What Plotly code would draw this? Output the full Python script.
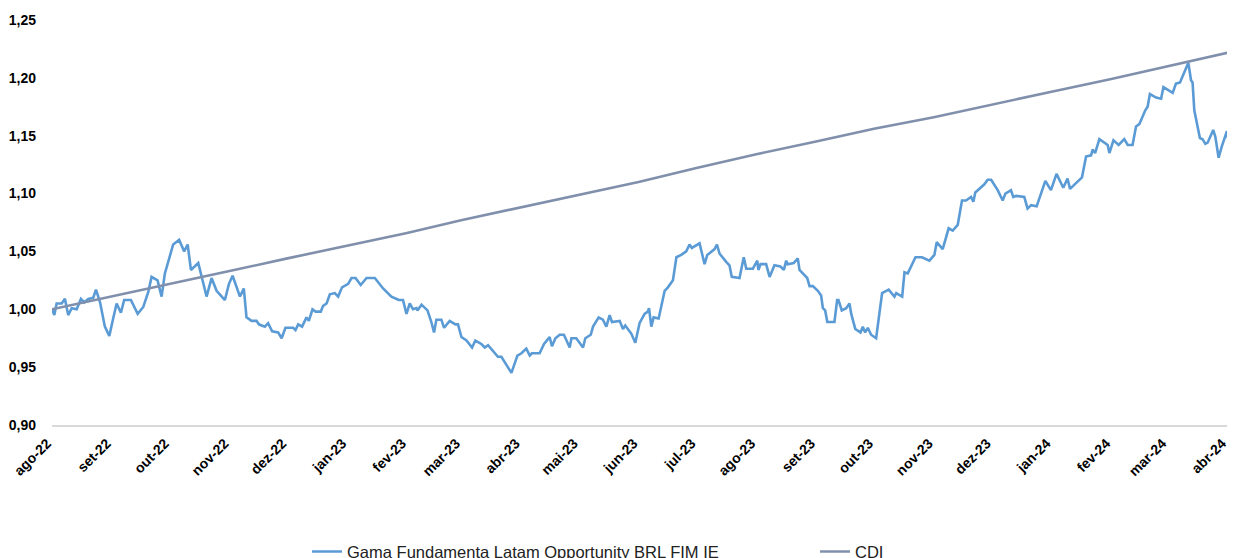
import pandas as pd
import plotly.graph_objects as go

START = pd.Timestamp("2022-08-01")

# Fund: days since 2022-08-01 and index value
fund_days = [0, 1.2, 2.4, 5.0, 6.7, 8.4, 10.2, 12.8, 15.0, 16.7, 18.8, 21.4, 22.8, 24.9, 27.4, 29.7, 31.7, 33.5, 35.7, 37.4,
             40.9, 44.4, 47.3, 49.9, 51.6, 54.7, 56.8, 58.5, 62.8, 65.9, 68.5, 70.3, 72.0, 75.8, 80.1, 82.7, 85.3, 89.6, 91.7, 93.6,
             97.4, 99.4, 100.8, 103.4, 106.0, 107.2, 110.3, 112.0, 114.1, 117.2, 119.0, 121.0, 125.0, 126.2, 127.6, 129.6, 131.9, 133.1, 135.0, 136.6,
             139.3, 140.5, 142.3, 144.0, 146.6, 148.3, 150.3, 153.5, 155.2, 157.3, 160.0, 161.7, 163.0, 167.3, 169.0, 171.6, 175.9, 179.7, 181.9, 183.7,
             185.4, 187.1, 188.9, 189.4, 191.5, 194.6, 196.6, 198.0, 199.2, 201.8, 203.2, 206.1, 209.1, 210.4, 212.2, 214.8, 217.7, 219.4, 222.5, 224.3,
             226.0, 229.4, 231.1, 232.9, 235.5, 238.1, 241.2, 243.3, 245.8, 247.6, 248.7, 252.7, 255.0, 257.9, 259.1, 260.9, 263.1, 265.3, 268.3, 269.2,
             271.7, 275.2, 276.4, 279.2, 280.4, 283.3, 285.5, 287.3, 289.0, 290.2, 294.2, 295.9, 297.1, 300.2, 302.3, 304.5, 307.1, 308.8, 309.4, 310.6,
             311.8, 314.4, 317.5, 319.2, 321.8, 323.6, 326.1, 328.7, 330.4, 331.6, 335.6, 338.2, 339.6, 342.5, 343.4, 344.6, 346.0, 349.4, 351.1, 352.3,
             356.3, 358.5, 359.8, 363.2, 365.5, 366.1, 367.2, 370.1, 371.9, 374.4, 377.5, 379.3, 380.5, 381.3, 384.4, 386.5, 387.4, 389.1, 391.4, 392.6,
             394.3, 396.9, 398.6, 399.5, 400.7, 401.8, 405.5, 406.9, 407.6, 409.3, 411.6, 413.3, 414.2, 416.3, 419.0, 420.2, 421.4, 422.8, 424.5, 427.1,
             430.2, 433.6, 434.9, 436.6, 437.5, 440.6, 441.8, 443.5, 447.5, 450.9, 454.7, 457.3, 458.5, 461.6, 464.7, 466.8, 469.4, 471.6, 473.7, 476.3,
             477.5, 478.5, 483.2, 484.9, 486.7, 490.1, 492.7, 494.1, 497.0, 498.2, 499.6, 503.9, 505.6, 507.4, 510.3, 512.6, 514.8, 517.7, 520.6, 524.1,
             526.3, 527.6, 533.8, 535.9, 538.5, 539.3, 540.6, 542.8, 547.1, 548.0, 550.1, 552.8, 555.7, 557.5, 560.0, 561.8, 563.5, 566.6, 567.8, 569.0,
             572.2, 574.8, 576.0, 580.8, 582.5, 584.6, 588.9, 590.3, 591.1, 592.0, 594.9, 596.3, 597.7, 598.9, 601.8, 602.9, 604.6, 606.3, 608.9, 610.0]
fund_values = [1.000, 0.995, 1.005, 1.005, 1.009, 0.995, 1.001, 1.000, 1.009, 1.006, 1.009, 1.010, 1.017, 1.006, 0.985, 0.977, 0.992, 1.005, 0.997, 1.008,
               1.008, 0.996, 1.002, 1.015, 1.028, 1.025, 1.011, 1.031, 1.056, 1.060, 1.050, 1.056, 1.034, 1.040, 1.011, 1.027, 1.016, 1.008, 1.022, 1.029,
               1.011, 1.018, 0.993, 0.990, 0.990, 0.987, 0.985, 0.988, 0.981, 0.980, 0.975, 0.984, 0.984, 0.982, 0.987, 0.985, 0.993, 0.990, 1.000, 0.998,
               0.998, 1.003, 1.005, 1.013, 1.014, 1.011, 1.019, 1.022, 1.027, 1.027, 1.021, 1.024, 1.027, 1.027, 1.023, 1.018, 1.011, 1.008, 1.008, 0.996,
               1.005, 1.000, 1.001, 0.999, 1.004, 0.999, 0.989, 0.980, 0.991, 0.991, 0.984, 0.990, 0.987, 0.987, 0.976, 0.973, 0.967, 0.973, 0.970, 0.967,
               0.969, 0.962, 0.959, 0.959, 0.952, 0.945, 0.960, 0.962, 0.966, 0.960, 0.962, 0.962, 0.970, 0.976, 0.968, 0.975, 0.978, 0.978, 0.967, 0.975,
               0.975, 0.967, 0.975, 0.978, 0.985, 0.993, 0.991, 0.985, 0.995, 0.989, 0.990, 0.983, 0.986, 0.979, 0.971, 0.988, 0.996, 0.998, 1.001, 0.985,
               0.993, 0.992, 1.016, 1.019, 1.025, 1.045, 1.047, 1.050, 1.056, 1.053, 1.057, 1.039, 1.047, 1.051, 1.052, 1.056, 1.048, 1.041, 1.038, 1.028,
               1.027, 1.045, 1.035, 1.035, 1.042, 1.034, 1.039, 1.039, 1.028, 1.038, 1.037, 1.034, 1.042, 1.039, 1.040, 1.044, 1.034, 1.031, 1.027, 1.020,
               1.020, 1.016, 1.012, 1.001, 0.999, 0.989, 0.989, 1.008, 1.008, 0.999, 1.001, 1.005, 0.996, 0.983, 0.980, 0.985, 0.980, 0.984, 0.978, 0.975,
               1.014, 1.017, 1.014, 1.011, 1.014, 1.011, 1.032, 1.031, 1.045, 1.045, 1.042, 1.047, 1.058, 1.052, 1.070, 1.068, 1.073, 1.094, 1.094, 1.097,
               1.093, 1.101, 1.108, 1.112, 1.112, 1.103, 1.094, 1.100, 1.103, 1.097, 1.098, 1.097, 1.087, 1.090, 1.089, 1.101, 1.111, 1.103, 1.117, 1.105,
               1.113, 1.104, 1.114, 1.132, 1.133, 1.138, 1.135, 1.147, 1.142, 1.135, 1.146, 1.142, 1.147, 1.142, 1.142, 1.158, 1.160, 1.172, 1.175, 1.186,
               1.183, 1.182, 1.192, 1.187, 1.195, 1.196, 1.213, 1.198, 1.196, 1.172, 1.148, 1.147, 1.143, 1.144, 1.155, 1.149, 1.131, 1.141, 1.154, 1.142]

# CDI: monthly readings
cdi_dates = ["2022-08-01", "2022-09-01", "2022-10-01", "2022-11-01", "2022-12-01", "2023-01-01", "2023-02-01",
             "2023-03-01", "2023-04-01", "2023-05-01", "2023-06-01", "2023-07-01", "2023-08-01", "2023-09-01",
             "2023-10-01", "2023-11-01", "2023-12-01", "2024-01-01", "2024-02-01", "2024-03-01", "2024-04-02"]
cdi_values = [1.000, 1.011, 1.022, 1.033, 1.044, 1.055, 1.066, 1.077, 1.088, 1.099, 1.110, 1.122, 1.134, 1.145,
              1.156, 1.166, 1.177, 1.188, 1.199, 1.210, 1.222]

tick_dates = ["2022-08-01", "2022-09-01", "2022-10-01", "2022-11-01", "2022-12-01", "2023-01-01", "2023-02-01",
              "2023-03-01", "2023-04-01", "2023-05-01", "2023-06-01", "2023-07-01", "2023-08-01", "2023-09-01",
              "2023-10-01", "2023-11-01", "2023-12-01", "2024-01-01", "2024-02-01", "2024-03-01", "2024-04-01"]
tick_labels = ["ago-22", "set-22", "out-22", "nov-22", "dez-22", "jan-23", "fev-23", "mar-23", "abr-23", "mai-23",
               "jun-23", "jul-23", "ago-23", "set-23", "out-23", "nov-23", "dez-23", "jan-24", "fev-24", "mar-24", "abr-24"]

fund_x = [START + pd.Timedelta(days=d) for d in fund_days]

fig = go.Figure()
fig.add_trace(go.Scatter(x=fund_x, y=fund_values, mode="lines",
                         name="Gama Fundamenta Latam Opportunity BRL FIM IE",
                         line=dict(color="#5B9BD5", width=2.6)))
fig.add_trace(go.Scatter(x=pd.to_datetime(cdi_dates), y=cdi_values, mode="lines", name="CDI",
                         line=dict(color="#8090AC", width=2.6)))

# The page body adds an 8px offset, so the figure is 8px smaller and margins compensate.
fig.update_layout(
    width=1227, height=550,
    margin=dict(l=44, r=5, t=12, b=133, autoexpand=False),
    paper_bgcolor="white", plot_bgcolor="white",
    separators=",.",
    font=dict(family="Liberation Sans", color="black"),
    showlegend=True,
    legend=dict(orientation="h", x=0.2165, xanchor="left", y=-0.313, yanchor="middle",
                font=dict(size=16.5, family="Liberation Sans", color="#222"),
                entrywidth=463, entrywidthmode="pixels", itemwidth=30,
                bgcolor="rgba(0,0,0,0)"),
)
fig.update_xaxes(
    type="date",
    range=["2022-08-01", "2024-04-02 12:00"],
    tickmode="array", tickvals=tick_dates, ticktext=tick_labels,
    tickangle=-45, tickfont=dict(size=14, family="Liberation Sans", color="black", weight="bold"),
    ticklabelshift=-5, ticklabelstandoff=3,
    showgrid=False, showline=True, linecolor="#D9D9D9", linewidth=1.5, ticks="", zeroline=False,
    automargin=False,
)
fig.update_yaxes(
    range=[0.90, 1.25], dtick=0.05, tick0=0.90, tickformat=".2f",
    tickfont=dict(size=14, family="Liberation Sans", color="black", weight="bold"),
    showgrid=False, showline=False, zeroline=False, ticks="", ticklabelstandoff=15,
    automargin=False,
)

fig.write_html("out.html")
